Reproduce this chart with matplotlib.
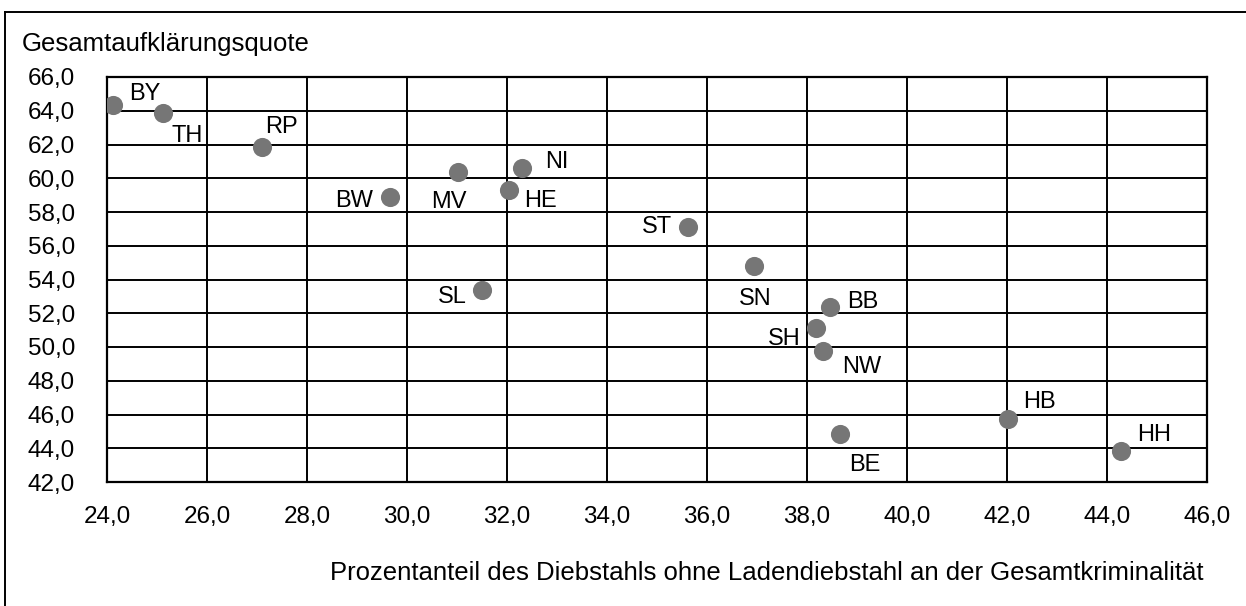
import numpy as np
import matplotlib.pyplot as plt
from matplotlib.lines import Line2D

plt.rcParams['font.family'] = ['Liberation Sans', 'DejaVu Sans']

laender = ['BY', 'TH', 'RP', 'BW', 'MV', 'NI', 'HE', 'ST', 'SL',
           'SN', 'BB', 'SH', 'NW', 'BE', 'HB', 'HH']
diebstahl = [24.12, 25.12, 27.10, 29.66, 31.02, 32.30, 32.04, 35.62, 31.50,
             36.94, 38.46, 38.18, 38.32, 38.66, 42.02, 44.28]
aufklaerung = [64.35, 63.88, 61.88, 58.90, 60.40, 60.62, 59.28, 57.10, 53.35,
               54.80, 52.38, 51.15, 49.75, 44.85, 45.72, 43.85]

# label offsets in pixels (dx, dy) and alignment
label_pos = {
    'BY': (16, 11, 'left'), 'TH': (9, -23, 'left'), 'RP': (3, 20, 'left'),
    'BW': (-17, -4, 'right'), 'MV': (-9, -31, 'center'), 'NI': (23, 6, 'left'),
    'HE': (15, -11, 'left'), 'ST': (-16, 0, 'right'), 'SL': (-15, -7, 'right'),
    'SN': (1, -33, 'center'), 'BB': (17, 5, 'left'), 'SH': (-15, -11, 'right'),
    'NW': (19, -16, 'left'), 'BE': (25, -31, 'center'), 'HB': (15, 17, 'left'),
    'HH': (16, 16, 'left'),
}

xticks = np.arange(24, 46.1, 2)
yticks = np.arange(42, 66.1, 2)

fig = plt.figure(figsize=(12.46, 6.06), dpi=100)
ax = fig.add_axes([107 / 1246, 1 - 482 / 606, 1100 / 1246, 405 / 606])

ax.set_axisbelow(True)
ax.grid(True, color='black', linewidth=1.4)
ax.scatter(diebstahl, aufklaerung, s=190, color='#767676', zorder=3, linewidths=0)

for name, x, y in zip(laender, diebstahl, aufklaerung):
    dx, dy, ha = label_pos[name]
    ax.annotate(name, (x, y), xytext=(dx, dy), textcoords='offset pixels',
                ha=ha, va='center', fontsize=17, zorder=4)

ax.set_xlim(24, 46)
ax.set_ylim(42, 66)
ax.set_xticks(xticks)
ax.set_yticks(yticks)
ax.set_xticklabels([f'{v:.1f}'.replace('.', ',') for v in xticks], fontsize=17.5)
ax.set_yticklabels([f'{v:.1f}'.replace('.', ',') for v in yticks], fontsize=17.5)
ax.tick_params(length=0)
ax.tick_params(axis='x', pad=17)
ax.tick_params(axis='y', pad=23)
for sp in ax.spines.values():
    sp.set_color('black')
    sp.set_linewidth(1.6)

fig.text(22 / 1246, 1 - 44 / 606, 'Gesamtaufklärungsquote', fontsize=18.5,
         ha='left', va='center')
fig.text(1204 / 1246, 1 - 573 / 606,
         'Prozentanteil des Diebstahls ohne Ladendiebstahl an der Gesamtkriminalität',
         fontsize=18.5, ha='right', va='center')

# outer chart border (right and bottom edges lie outside the image)
fig.add_artist(Line2D([5 / 1246, 5 / 1246], [0, 1 - 12 / 606], color='black', linewidth=1.4))
fig.add_artist(Line2D([5 / 1246, 1], [1 - 12 / 606, 1 - 12 / 606], color='black', linewidth=1.4))

fig.savefig('out.png', dpi=100)
